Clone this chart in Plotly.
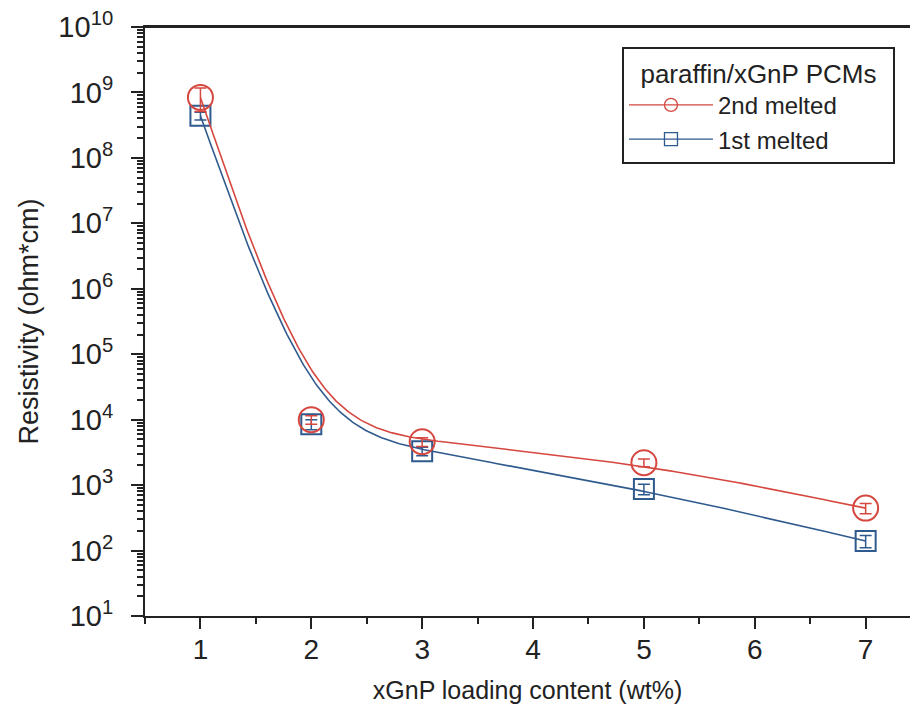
import numpy as np
import plotly.graph_objects as go

# ---- data ----
loading = [1, 2, 3, 5, 7]
res_2nd = [8.4e8, 1.0e4, 4.6e3, 2.2e3, 4.45e2]
err_2nd = [3.3e8, 1.5e3, 7.0e2, 3.0e2, 8.0e1]
res_1st = [4.4e8, 8.5e3, 3.3e3, 8.7e2, 1.4e2]
err_1st = [6.0e7, 1.5e3, 5.0e2, 1.6e2, 3.0e1]
ytick_exp = [1, 2, 3, 4, 5, 6, 7, 8, 9, 10]
ytick_vals = [10.0 ** e for e in ytick_exp]
ytick_text = ["10<sup>%d</sup>" % e for e in ytick_exp]
xtick_vals = [1, 2, 3, 4, 5, 6, 7]

RED = "#d5473f"
BLUE = "#2f5a8e"
INK = "#222222"
FONT = "Liberation Sans, Arial, sans-serif"
NB = "\u00a0"


def bspline(px, py, num=60):
    """Uniform cubic B-spline with the data points as control points
    (end points tripled so the curve starts/ends on them), in log space."""
    P = np.column_stack([np.asarray(px, float), np.asarray(py, float)])
    Q = np.vstack([P[0], P[0]] + list(P) + [P[-1], P[-1]])
    t = np.linspace(0, 1, num)
    b = np.column_stack([(1 - t) ** 3,
                         3 * t ** 3 - 6 * t ** 2 + 4,
                         -3 * t ** 3 + 3 * t ** 2 + 3 * t + 1,
                         t ** 3]) / 6.0
    pts = np.vstack([b @ Q[i:i + 4] for i in range(len(Q) - 3)])
    return pts[:, 0], pts[:, 1]


fig = go.Figure()

for vals, errs, color, symbol, size in [
    (res_1st, err_1st, BLUE, "square-open", 20),
    (res_2nd, err_2nd, RED, "circle-open", 25),
]:
    cx, cy = bspline(loading, np.log10(vals))
    fig.add_trace(go.Scatter(x=cx, y=10 ** cy, mode="lines",
                             line=dict(color=color, width=1.6),
                             showlegend=False, hoverinfo="skip"))
    fig.add_trace(go.Scatter(x=loading, y=vals, mode="markers",
                             marker=dict(symbol=symbol, size=size, color=color,
                                         line=dict(color=color, width=2)),
                             error_y=dict(type="data", array=errs, color=color,
                                          thickness=1.5, width=6),
                             showlegend=False))

# legend entries
for color, symbol, name in [(RED, "circle-open", "2nd melted"),
                            (BLUE, "square-open", "1st melted")]:
    fig.add_trace(go.Scatter(x=[None], y=[None], mode="lines+markers", name=name,
                             line=dict(color=color, width=1.3),
                             marker=dict(symbol=symbol, size=13, color=color,
                                         line=dict(color=color, width=1.3))))

# top frame line of the plot area
fig.add_shape(type="line", xref="paper", yref="paper", x0=0, x1=1, y0=1, y1=1,
              line=dict(color=INK, width=2))

fig.update_layout(
    width=910, height=715,
    margin=dict(l=145, r=0, t=27, b=99),
    paper_bgcolor="white", plot_bgcolor="white",
    font=dict(family=FONT, color=INK, size=24),
    legend=dict(x=0.6235, y=0.966, xanchor="left", yanchor="top",
                bgcolor="white", bordercolor=INK, borderwidth=2,
                font=dict(size=24),
                title=dict(text=NB + NB + "paraffin/xGnP PCMs" + NB + NB,
                           font=dict(size=26)),
                itemwidth=84, tracegroupgap=0),
    xaxis=dict(range=[0.5, 7.4], tickmode="array", tickvals=xtick_vals,
               automargin=False,
               ticks="outside", ticklen=11, tickwidth=2, tickcolor=INK,
               ticklabelstandoff=-4,
               showline=True, linecolor=INK, linewidth=2, mirror=True,
               showgrid=False, zeroline=False,
               tickfont=dict(size=28),
               minor=dict(dtick=0.5, ticks="outside", ticklen=6, tickwidth=2,
                          tickcolor=INK, showgrid=False),
               title=dict(text="xGnP loading content (wt%)", font=dict(size=25),
                          standoff=18)),
    yaxis=dict(type="log", range=[1, 10], tickmode="array",
               tickvals=ytick_vals, ticktext=ytick_text,
               automargin=False,
               ticks="outside", ticklen=12, tickwidth=2, tickcolor=INK,
               ticklabelstandoff=12,
               showline=True, linecolor=INK, linewidth=2,
               showgrid=False, zeroline=False,
               tickfont=dict(size=29),
               minor=dict(dtick="D1", ticks="outside", ticklen=6, tickwidth=1.5,
                          tickcolor=INK, showgrid=False),
               title=dict(text="Resistivity (ohm*cm)", font=dict(size=27),
                          standoff=12)),
)

fig.write_html("out.html",
               config={"displayModeBar": False},
               post_script="document.body.style.margin='0';"
                           "document.body.style.overflow='hidden';")
